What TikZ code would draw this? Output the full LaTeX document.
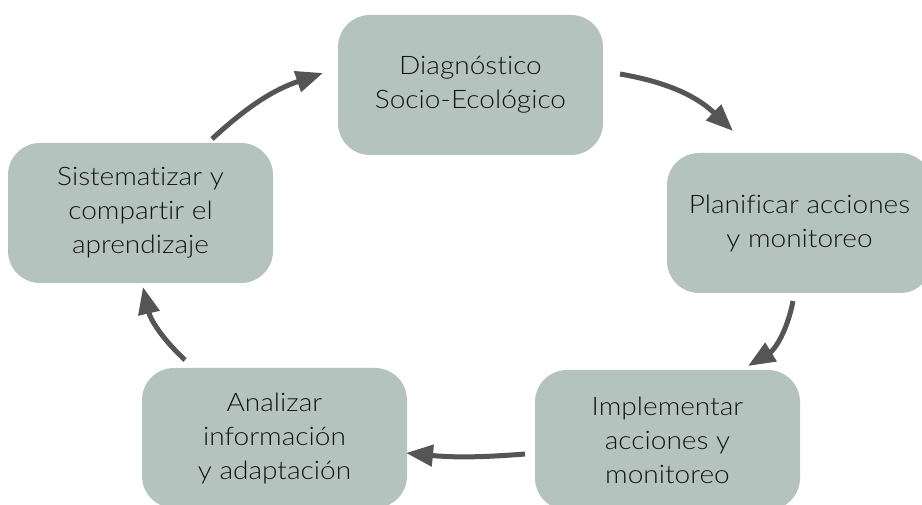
\documentclass[tikz,border=0pt]{standalone}
\usepackage{fontspec}
\setmainfont{Lato Light}[FakeStretch=1.1, Ligatures={NoCommon}]
\usetikzlibrary{arrows.meta}
\definecolor{boxfill}{RGB}{181,195,191}
\definecolor{arrowgray}{RGB}{85,85,85}
\definecolor{txt}{RGB}{20,20,20}
\begin{document}
\begin{tikzpicture}[x=1pt,y=-1pt,
  stagebox/.style={fill=boxfill, rounded corners=32pt, minimum width=265pt, minimum height=140pt,
    inner sep=0pt, align=center, text=txt, font=\fontsize{25.5}{34}\selectfont},
  cyclearrow/.style={draw=arrowgray, line width=5pt,
    -{Triangle[length=27pt,width=21pt]}, bend left=#1},
  cyclearrow/.default=15]
\useasboundingbox (0,0) rectangle (922,505);
\clip (0,0) rectangle (922,505);
\node[stagebox] (diag) at (470.5,85) {Diagnóstico\\Socio-Ecológico};
\node[stagebox] (plan) at (799.5,223) {Planificar acciones\\y monitoreo};
\node[stagebox] (impl) at (667.5,440) {Implementar\\acciones y\\monitoreo};
\node[stagebox] (anal) at (274.5,438) {Analizar\\información\\y adaptación};
\node[stagebox] (sist) at (140.5,213) {Sistematizar y\\compartir el\\aprendizaje};
% arrow end points
\coordinate (a1s) at (620,74);  \coordinate (a1e) at (733,131);
\coordinate (a2s) at (793,301); \coordinate (a2e) at (748,366);
\coordinate (a3s) at (525,454); \coordinate (a3e) at (406,453);
\coordinate (a4s) at (185,360); \coordinate (a4e) at (143,287);
\coordinate (a5s) at (212,139); \coordinate (a5e) at (323,73);
\draw[cyclearrow=17] (a1s) to (a1e);
\draw[cyclearrow=24] (a2s) to (a2e);
\draw[cyclearrow=5]  (a3s) to (a3e);
\draw[cyclearrow=17] (a4s) to (a4e);
\draw[cyclearrow=12] (a5s) to (a5e);
\end{tikzpicture}
\end{document}
